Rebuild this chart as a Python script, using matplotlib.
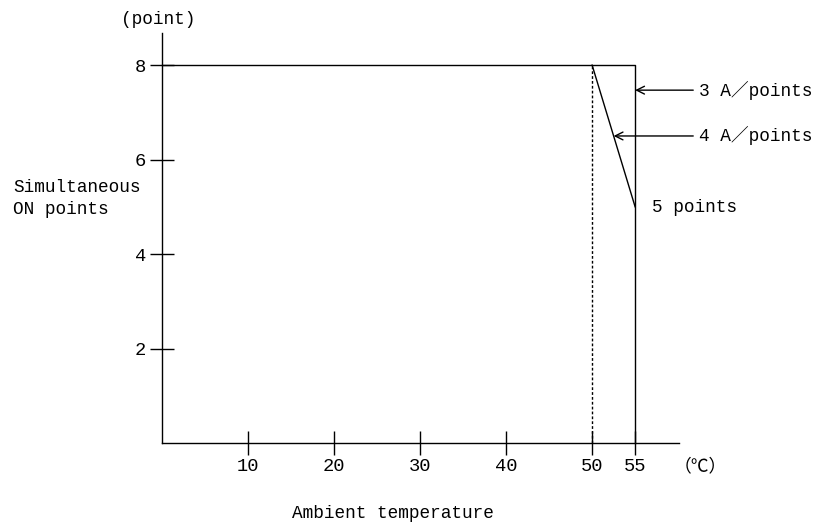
import matplotlib.pyplot as plt

plt.rcParams['font.family'] = ['Liberation Mono', 'Noto Sans CJK JP']

# derating curves (ambient temperature in C, simultaneous ON points)
temp_3a = [0, 55, 55]
pts_3a = [8, 8, 0]
temp_4a = [50, 55]
pts_4a = [8, 5]
temp_ref = [50, 50]
pts_ref = [0, 8]

xticks = [10, 20, 30, 40, 50, 55]
yticks = [2, 4, 6, 8]

fig = plt.figure(figsize=(8.38, 5.29), dpi=100)
ax = fig.add_axes([162 / 838, (529 - 443) / 529, (679 - 162) / 838, (443 - 33) / 529])

lw = 1.0
ax.plot(temp_3a, pts_3a, color='black', lw=lw, clip_on=False)
ax.plot(temp_4a, pts_4a, color='black', lw=lw, clip_on=False)
ax.plot(temp_ref, pts_ref, color='black', lw=lw, linestyle=(0, (2, 1.5)), clip_on=False)

ax.set_xlim(0, 60.1)
ax.set_ylim(0, 8.68)
for s in ['top', 'right']:
    ax.spines[s].set_visible(False)
for s in ['left', 'bottom']:
    ax.spines[s].set_linewidth(lw)

ax.set_xticks(xticks)
ax.set_yticks(yticks)
ax.set_xticklabels([str(t) for t in xticks])
ax.set_yticklabels([str(t) for t in yticks])
ax.tick_params(direction='inout', length=17, width=lw, labelsize=13.5, pad=2)
ax.tick_params(axis='y', pad=3)

fs = 12.8
fig.text(158 / 838, 1 - 20 / 529, '(point)', ha='center', va='center', fontsize=fs)
fig.text(13 / 838, 1 - 187 / 529, 'Simultaneous', ha='left', va='center', fontsize=fs)
fig.text(13 / 838, 1 - 209 / 529, 'ON points', ha='left', va='center', fontsize=fs)
fig.text(393 / 838, 1 - 513 / 529, 'Ambient temperature', ha='center', va='center', fontsize=fs)
fig.text(700 / 838, 1 - 467 / 529, '（℃）', ha='center', va='center', fontsize=fs)

arrow = dict(arrowstyle='->', color='black', lw=lw, shrinkA=2, shrinkB=0, mutation_scale=14)
ax.annotate('3 A／points', xy=(55, 7.47), xytext=(62.4, 7.47), va='center', ha='left',
            fontsize=fs, arrowprops=arrow, annotation_clip=False)
ax.annotate('4 A／points', xy=(52.5, 6.5), xytext=(62.4, 6.5), va='center', ha='left',
            fontsize=fs, arrowprops=arrow, annotation_clip=False)
ax.text(57.0, 4.98, '5 points', va='center', ha='left', fontsize=fs, clip_on=False)

fig.savefig('out.png', dpi=100)
